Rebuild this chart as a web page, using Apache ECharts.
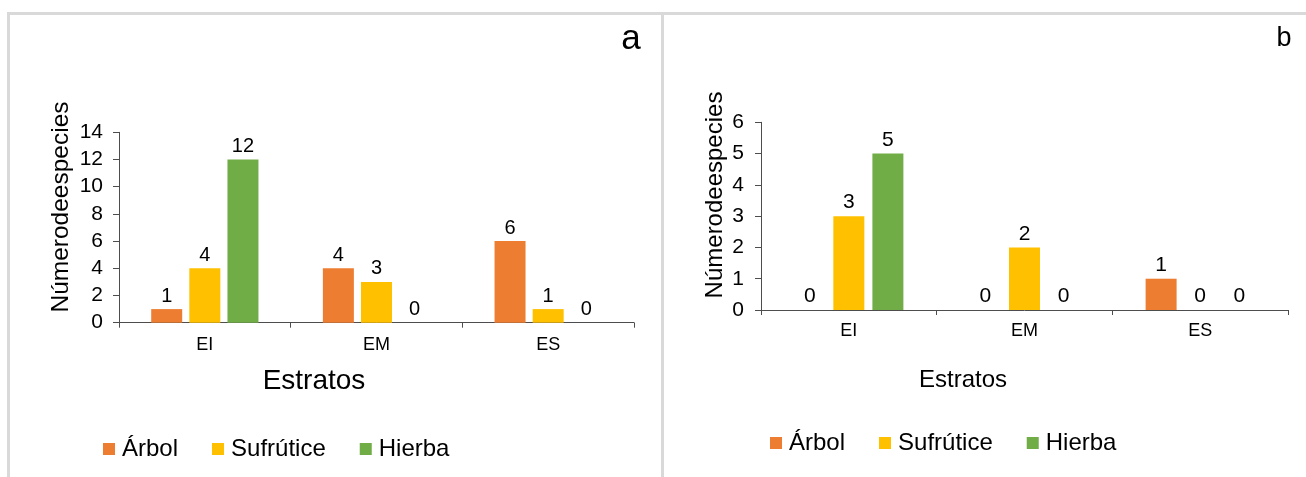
<!DOCTYPE html>
<html><head><meta charset="utf-8">
<script src="https://cdn.jsdelivr.net/npm/echarts@6/dist/echarts.min.js"></script>
<style>html,body{margin:0;padding:0;background:#fff}#c{width:1306px;height:477px}</style>
</head><body><div id="c"></div>
<script>
// ---- data ----
const categories = ['EI', 'EM', 'ES'];
const seriesNames = ['Árbol', 'Sufrútice', 'Hierba'];
const arbolA = [1, 4, 6];
const sufruticeA = [4, 3, 1];
const hierbaA = [12, 0, 0];
const arbolB = [0, 0, 1];
const sufruticeB = [3, 2, 0];
const hierbaB = [5, 0, 0];
const yMaxA = 14, yStepA = 2;
const yMaxB = 6, yStepB = 1;
const yTitle = 'Númerodeespecies';
const xTitle = 'Estratos';
const panelLabels = ['a', 'b'];

// ---- style ----
const FF = '"Liberation Sans", Arial, Helvetica, sans-serif';
const colors = ['#ED7D31', '#FFC000', '#70AD47'];
const axisColor = '#4d4d4d';
const frameColor = '#D9D9D9';

const chart = echarts.init(document.getElementById('c'), null, {renderer: 'canvas'});

function xAx(gi, fs, margin) {
  return {
    type: 'category', gridIndex: gi, data: categories,
    axisLine: {show: true, lineStyle: {color: axisColor, width: 1}},
    axisTick: {show: true, length: 5, inside: false, alignWithLabel: false, lineStyle: {color: axisColor}},
    axisLabel: {color: '#000', fontSize: fs, fontFamily: FF, margin: margin},
    splitLine: {show: false}
  };
}
function yAx(gi, max, step, fs, margin) {
  return {
    type: 'value', gridIndex: gi, min: 0, max: max, interval: step,
    axisLine: {show: true, lineStyle: {color: axisColor, width: 1}},
    axisTick: {show: true, length: 6, inside: false, lineStyle: {color: axisColor}},
    axisLabel: {color: '#000', fontSize: fs, fontFamily: FF, margin: margin},
    splitLine: {show: false}
  };
}
function bar(name, data, idx, color, gap, fs) {
  return {
    type: 'bar', name: name, data: data, xAxisIndex: idx, yAxisIndex: idx,
    barWidth: 31, barGap: gap, itemStyle: {color: color},
    label: {show: true, position: 'top', distance: 3, color: '#000', fontSize: fs, fontFamily: FF},
    emphasis: {disabled: true}, animation: false
  };
}
function legend(left, top) {
  return {
    data: seriesNames, left: left, top: top, orient: 'horizontal', padding: 0,
    itemWidth: 12, itemHeight: 12, itemGap: 34, icon: 'rect',
    textStyle: {color: '#000', fontSize: 24, fontFamily: FF, padding: [0, 0, 0, 2]},
    selectedMode: false
  };
}
function txt(x, y, text, fs, rot) {
  return {
    type: 'text', x: x, y: y, rotation: rot || 0, silent: true,
    style: {text: text, fill: '#000', font: fs + 'px ' + FF, align: 'center', verticalAlign: 'middle'}
  };
}

const option = {
  backgroundColor: '#fff',
  animation: false,
  grid: [
    {left: 119, top: 132.3, width: 515, height: 190.4, containLabel: false},
    {left: 761, top: 122.3, width: 527, height: 187.7, containLabel: false}
  ],
  xAxis: [xAx(0, 18, 13), xAx(1, 18, 12.5)],
  yAxis: [yAx(0, yMaxA, yStepA, 21, 16), yAx(1, yMaxB, yStepB, 21, 17)],
  legend: [legend(103, 437), legend(770, 431)],
  series: [
    bar(seriesNames[0], arbolA, 0, colors[0], '23%', 20),
    bar(seriesNames[1], sufruticeA, 0, colors[1], '23%', 20),
    bar(seriesNames[2], hierbaA, 0, colors[2], '23%', 20),
    bar(seriesNames[0], arbolB, 1, colors[0], '26%', 21),
    bar(seriesNames[1], sufruticeB, 1, colors[1], '26%', 21),
    bar(seriesNames[2], hierbaB, 1, colors[2], '26%', 21)
  ],
  graphic: [
    {type: 'rect', silent: true, shape: {x: 7, y: 12, width: 1299, height: 3}, style: {fill: frameColor}},
    {type: 'rect', silent: true, shape: {x: 7, y: 12, width: 3, height: 465}, style: {fill: frameColor}},
    {type: 'rect', silent: true, shape: {x: 661, y: 12, width: 3, height: 465}, style: {fill: frameColor}},
    txt(631, 39, panelLabels[0], 35),
    txt(1284, 39, panelLabels[1], 27),
    txt(61, 207, yTitle, 24.5, Math.PI / 2),
    txt(715, 195, yTitle, 24, Math.PI / 2),
    txt(314, 381, xTitle, 28),
    txt(963, 380, xTitle, 24)
  ]
};
chart.setOption(option);
</script>
</body></html>
